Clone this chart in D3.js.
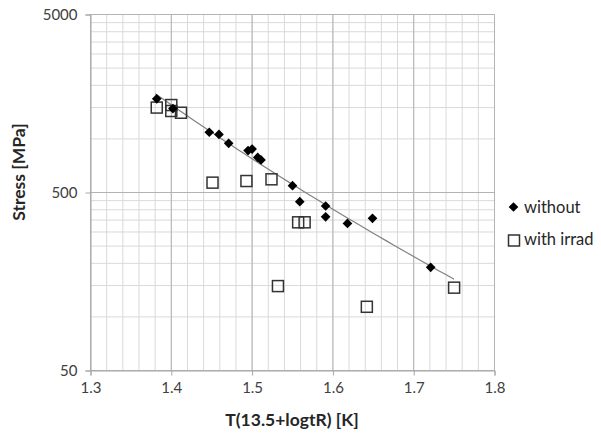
<!DOCTYPE html>
<html>
<head>
<meta charset="utf-8">
<script src="https://cdn.jsdelivr.net/npm/d3@7"></script>
<style>
  body { margin: 0; background: #fff; }
  text { font-family: Lato, "Open Sans", sans-serif; fill: #404040; }
</style>
</head>
<body>
<div id="chart"></div>
<script>
// series
const withoutX = [1.382, 1.402, 1.447, 1.459, 1.471, 1.495, 1.500, 1.507, 1.511, 1.550, 1.559, 1.591, 1.591, 1.618, 1.649, 1.721];
const withoutY = [1680, 1480, 1090, 1060, 945, 860, 877, 787, 762, 546, 444, 420, 365, 335, 358, 190];
const irradX = [1.382, 1.400, 1.400, 1.412, 1.451, 1.493, 1.524, 1.557, 1.565, 1.532, 1.642, 1.750];
const irradY = [1500, 1550, 1435, 1403, 568, 580, 593, 340, 340, 149, 114, 146];

const xTicks = [1.3, 1.4, 1.5, 1.6, 1.7, 1.8];
const yTicks = [50, 500, 5000];
const trendRange = [1.38, 1.75];

const W = 601, H = 434;
const margin = { left: 90.5, top: 14.5, right: 106.5, bottom: 63.5 };
const iw = W - margin.left - margin.right, ih = H - margin.top - margin.bottom;

const svg = d3.select("#chart").append("svg")
    .attr("width", W).attr("height", H);

const g = svg.append("g")
    .attr("transform", `translate(${margin.left},${margin.top})`);

const x = d3.scaleLinear().domain([1.3, 1.8]).range([0, iw]);
const y = d3.scaleLog().domain([50, 5000]).range([ih, 0]);

// minor grid
const xMinor = d3.range(0, 26).map(i => 1.3 + i * 0.02);
const yMinor = [];
[50, 500].forEach(b => { for (let k = 2; k <= 10; k++) yMinor.push(b * k); });

g.append("g").selectAll("line").data(xMinor).enter().append("line")
    .attr("x1", d => x(d)).attr("x2", d => x(d))
    .attr("y1", 0).attr("y2", ih)
    .attr("stroke", "#d9d9d9").attr("stroke-width", 1);
g.append("g").selectAll("line").data(yMinor).enter().append("line")
    .attr("x1", 0).attr("x2", iw)
    .attr("y1", d => y(d)).attr("y2", d => y(d))
    .attr("stroke", "#d9d9d9").attr("stroke-width", 1);

// major grid
g.append("g").selectAll("line").data(xTicks).enter().append("line")
    .attr("x1", d => x(d)).attr("x2", d => x(d))
    .attr("y1", 0).attr("y2", ih)
    .attr("stroke", "#b3b3b3").attr("stroke-width", 1);
g.append("g").selectAll("line").data(yTicks).enter().append("line")
    .attr("x1", 0).attr("x2", iw)
    .attr("y1", d => y(d)).attr("y2", d => y(d))
    .attr("stroke", "#b3b3b3").attr("stroke-width", 1);

// axes
const xAxis = g.append("g")
    .attr("transform", `translate(0,${ih})`)
    .call(d3.axisBottom(x).tickValues(xTicks).tickFormat(d3.format(".1f")).tickSize(5).tickPadding(7));
const yAxis = g.append("g")
    .call(d3.axisLeft(y).tickValues(yTicks).tickFormat(d3.format("d")).tickSize(5).tickPadding(8));
[xAxis, yAxis].forEach(a => {
    a.select(".domain").attr("stroke", "#a6a6a6");
    a.selectAll(".tick line").attr("stroke", "#a6a6a6");
    a.selectAll(".tick text").style("font-size", "15px").attr("fill", "#404040");
});

// power trendline fitted to the "without" series
const lx = withoutX.map(Math.log), ly = withoutY.map(Math.log);
const mx = d3.mean(lx), my = d3.mean(ly);
const b = d3.sum(lx.map((v, i) => (v - mx) * (ly[i] - my))) / d3.sum(lx.map(v => (v - mx) * (v - mx)));
const a = Math.exp(my - b * mx);
const trendPts = d3.range(0, 41).map(i => trendRange[0] + (trendRange[1] - trendRange[0]) * i / 40);
g.append("path")
    .datum(trendPts)
    .attr("fill", "none").attr("stroke", "#808080").attr("stroke-width", 1.2)
    .attr("d", d3.line().x(d => x(d)).y(d => y(a * Math.pow(d, b))));

// squares (with irrad)
const sq = 11;
g.append("g").selectAll("rect").data(irradX).enter().append("rect")
    .attr("x", d => x(d) - sq / 2)
    .attr("y", (d, i) => y(irradY[i]) - sq / 2)
    .attr("width", sq).attr("height", sq)
    .attr("fill", "none").attr("stroke", "#333").attr("stroke-width", 1.5);

// diamonds (without)
const diamond = d3.symbol().type(d3.symbolDiamond2).size(60);
g.append("g").selectAll("path").data(withoutX).enter().append("path")
    .attr("transform", (d, i) => `translate(${x(d)},${y(withoutY[i])})`)
    .attr("d", diamond)
    .attr("fill", "#000");

// axis titles
svg.append("text")
    .attr("x", 292).attr("y", 426)
    .attr("text-anchor", "middle")
    .style("font-size", "17.5px").style("font-weight", "bold").style("fill", "#262626")
    .text("T(13.5+logtR) [K]");
svg.append("text")
    .attr("transform", `translate(25,172) rotate(-90)`)
    .attr("text-anchor", "middle")
    .style("font-size", "17.5px").style("font-weight", "bold").style("fill", "#262626")
    .text("Stress [MPa]");

// legend
const legend = svg.append("g");
legend.append("path")
    .attr("transform", "translate(513.5,207)")
    .attr("d", diamond).attr("fill", "#000");
legend.append("text")
    .attr("x", 524).attr("y", 212.5)
    .style("font-size", "16.5px").style("fill", "#262626").text("without");
legend.append("rect")
    .attr("x", 508.5).attr("y", 235).attr("width", sq).attr("height", sq)
    .attr("fill", "none").attr("stroke", "#333").attr("stroke-width", 1.5);
legend.append("text")
    .attr("x", 524).attr("y", 245)
    .style("font-size", "16.5px").style("fill", "#262626").text("with irrad");
</script>
</body>
</html>
